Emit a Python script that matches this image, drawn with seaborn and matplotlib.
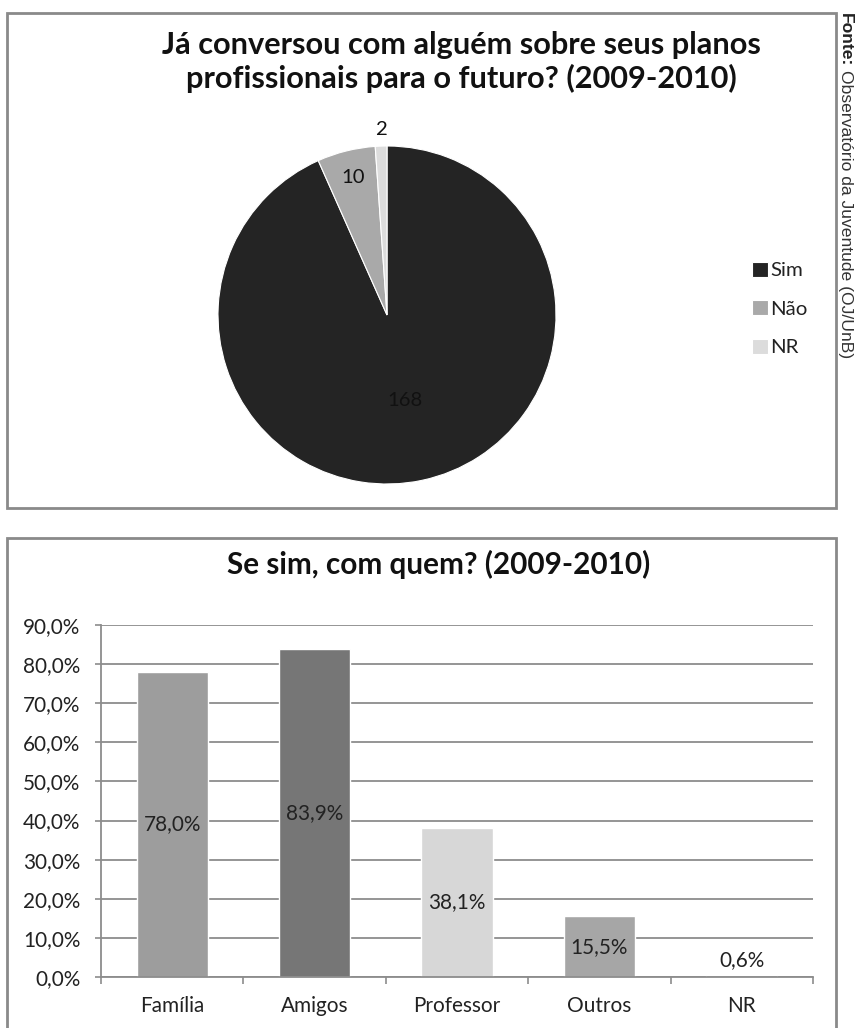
import matplotlib
matplotlib.use("Agg")
import matplotlib.pyplot as plt
import seaborn as sns
import numpy as np
import pandas as pd
from matplotlib.patches import Rectangle
from matplotlib.ticker import FuncFormatter, FixedLocator

# ---------------- data ----------------
pie_labels = ["Sim", "Não", "NR"]
pie_values = [168, 10, 2]

bar_categories = ["Família", "Amigos", "Professor", "Outros", "NR"]
bar_values = [78.0, 83.9, 38.1, 15.5, 0.6]
y_ticks = [0, 10, 20, 30, 40, 50, 60, 70, 80, 90]

title_top = "Já conversou com alguém sobre seus planos\nprofissionais para o futuro? (2009-2010)"
title_bottom = "Se sim, com quem? (2009-2010)"
source_bold = "Fonte:"
source_rest = "Observatório da Juventude (OJ/UnB)"

# ---------------- style ----------------
pie_colors = ["#242424", "#a9a9a9", "#dcdcdc"]
bar_colors = ["#9d9d9d", "#767676", "#d7d7d7", "#a6a6a6", "#8a8a8a"]
grid_color = "#8c8c8c"
text_color = "#222222"

W, H = 855, 1028
sns.set_theme(style="white")
plt.rcParams["font.family"] = ["Lato", "DejaVu Sans"]

fig = plt.figure(figsize=(W / 100, H / 100), dpi=100)
fig.patch.set_facecolor("white")


def fx(px):
    return px / W


def fy(py):
    return 1 - py / H


# panel frames
fig.patches.append(Rectangle((fx(7), fy(508)), fx(836) - fx(7), fy(13) - fy(508),
                             transform=fig.transFigure, fill=False,
                             edgecolor="#8a8a8a", lw=2, zorder=0))
fig.patches.append(Rectangle((fx(7), fy(1045)), fx(836) - fx(7), fy(538) - fy(1045),
                             transform=fig.transFigure, fill=False,
                             edgecolor="#8a8a8a", lw=2, zorder=0))

# ---------------- pie ----------------
cx, cy, r = 387, 315, 169
ax1 = fig.add_axes([fx(cx - r), fy(cy + r), fx(2 * r), (2 * r) / H])
wedges, _ = ax1.pie(pie_values, colors=pie_colors, startangle=90, counterclock=False,
                    wedgeprops=dict(edgecolor="white", linewidth=0.8))
ax1.set_xlim(-1, 1)
ax1.set_ylim(-1, 1)
ax1.set_aspect("equal")
ax1.axis("off")

label_dist = [0.52, 0.84, 1.10]
pie_texts = []
for w, v, d in zip(wedges, pie_values, label_dist):
    ang = np.deg2rad((w.theta1 + w.theta2) / 2)
    pie_texts.append(ax1.text(d * np.cos(ang), d * np.sin(ang), str(v), ha="center",
                              va="center", fontsize=13, color="#111111", clip_on=False))

leg = ax1.legend(wedges, pie_labels, loc="center left",
                 bbox_to_anchor=(fx(752), fy(309)), bbox_transform=fig.transFigure,
                 frameon=False, fontsize=14, handlelength=0.8, handleheight=0.8,
                 handletextpad=0.15, labelspacing=1.1, borderpad=0, borderaxespad=0,
                 labelcolor=text_color)

t_top = fig.text(fx(461), fy(62), title_top, ha="center", va="center",
                 fontweight="bold", fontsize=20, linespacing=1.2, color="#111111")

# ---------------- bars ----------------
ax2 = fig.add_axes([fx(101), fy(977), fx(813) - fx(101), fy(625) - fy(977)])
df = pd.DataFrame({"cat": bar_categories, "val": bar_values})
sns.barplot(data=df, x="cat", y="val", hue="cat", palette=bar_colors,
            order=bar_categories, hue_order=bar_categories, width=0.5,
            saturation=1, legend=False, ax=ax2)
ax2.set_xlim(-0.5, len(bar_categories) - 0.5)
ax2.set_ylim(0, 90)
ax2.set_xlabel("")
ax2.set_ylabel("")
ax2.yaxis.set_major_locator(FixedLocator(y_ticks))
ax2.yaxis.set_major_formatter(FuncFormatter(lambda v, p: f"{v:.1f}%".replace(".", ",")))
ax2.yaxis.grid(True, color=grid_color, linewidth=1.3)
ax2.xaxis.grid(False)
ax2.set_axisbelow(True)
for s in ["top", "right"]:
    ax2.spines[s].set_visible(False)
for s in ["left", "bottom"]:
    ax2.spines[s].set_color(grid_color)
    ax2.spines[s].set_linewidth(1.3)
ax2.tick_params(axis="y", which="major", length=4, width=1.2, color=grid_color,
                direction="out", pad=11, labelsize=14, labelcolor=text_color, left=True)
ax2.tick_params(axis="x", which="major", length=0, pad=14, labelsize=14,
                labelcolor=text_color)
ax2.set_xticks(np.arange(-0.5, len(bar_categories)), minor=True)
ax2.tick_params(axis="x", which="minor", length=5, width=1.2, color=grid_color,
                direction="out", bottom=True)

bar_texts = []
for i, v in enumerate(bar_values):
    lbl = f"{v:.1f}%".replace(".", ",")
    if v > 5:
        bar_texts.append(ax2.text(i, v / 2, lbl, ha="center", va="center",
                                  fontsize=14, color=text_color))
    else:
        bar_texts.append(ax2.annotate(lbl, (i, v), xytext=(0, 3), textcoords="offset points",
                                      ha="center", va="bottom", fontsize=14, color=text_color))

t_bot = fig.text(fx(439), fy(564), title_bottom, ha="center", va="center",
                 fontweight="bold", fontsize=20, color="#111111")

# ---------------- source (vertical) ----------------
src_x = 845
s1 = fig.text(fx(src_x), fy(13), source_bold, rotation=-90, ha="center", va="top",
              fontweight="bold", fontsize=11, family="Liberation Sans", color="#222222")
s2 = fig.text(fx(src_x), fy(60), source_rest, rotation=-90, ha="center", va="top",
              fontsize=11, family="Liberation Sans", color="#333333")

# ---------------- fit text sizes to measured widths ----------------
fig.canvas.draw()
rend = fig.canvas.get_renderer()


def size_for(t, target):
    bb = t.get_window_extent(rend)
    return t.get_fontsize() * target / bb.width


t_top.set_fontsize(size_for(t_top, 600))
t_bot.set_fontsize(size_for(t_bot, 424))

ytl = [t for t in ax2.get_yticklabels() if t.get_text() == "90,0%"][0]
xtl = [t for t in ax2.get_xticklabels() if t.get_text() == "Professor"][0]
fs_reg = 0.5 * (size_for(ytl, 58) + size_for(xtl, 87))
ax2.tick_params(axis="both", which="major", labelsize=fs_reg)
for t in bar_texts:
    t.set_fontsize(fs_reg)

fs_pie = size_for(pie_texts[0], 35)
for t in pie_texts:
    t.set_fontsize(fs_pie)

leg_txt = leg.get_texts()[0]
fs_leg = size_for(leg_txt, 33)
for t in leg.get_texts():
    t.set_fontsize(fs_leg)

# source: runs from the panel top downwards
src_top, src_len, gap = 13, 345, 4
h1 = s1.get_window_extent(rend).height
h2 = s2.get_window_extent(rend).height
scale = (src_len - gap) / (h1 + h2)
s1.set_fontsize(s1.get_fontsize() * scale)
s2.set_fontsize(s2.get_fontsize() * scale)
fig.canvas.draw()
bb1 = s1.get_window_extent(rend)
shift = (H - src_top) - bb1.y1
s1.set_position((fx(src_x), (H - src_top + shift) / H))
fig.canvas.draw()
bb1 = s1.get_window_extent(rend)
s2.set_position((fx(src_x), (bb1.y0 - gap) / H))

fig.savefig("out.png", dpi=100, facecolor="white")
